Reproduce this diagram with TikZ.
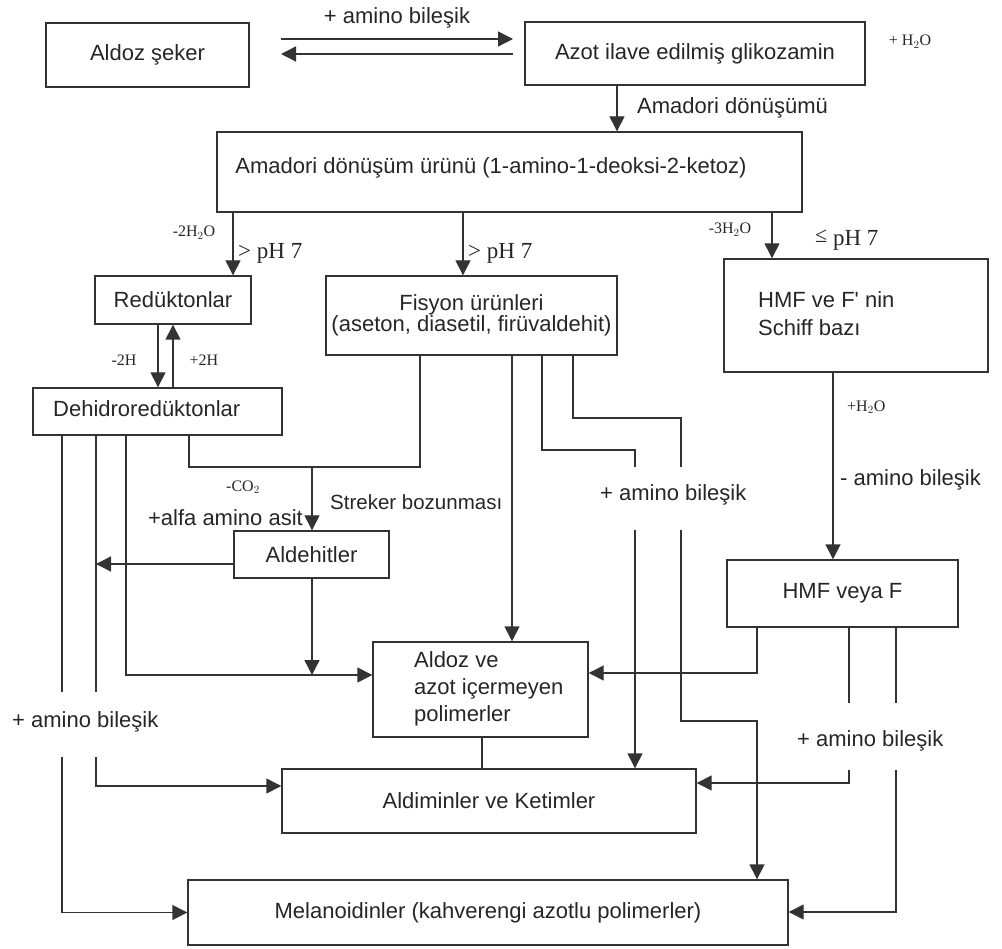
\documentclass[tikz,border=0pt]{standalone}
\usepackage{fontspec}
\setmainfont{Liberation Sans}
\newfontfamily\tmfont{Liberation Serif}
\usetikzlibrary{arrows.meta}
\begin{document}
\begin{tikzpicture}[x=1pt,y=-1pt,
  box/.style={draw=black!80, line width=1.4pt, rectangle, inner sep=0pt, font=\fontsize{22}{25}\selectfont, text=black!85},
  ln/.style={draw=black!80, line width=1.4pt},
  arr/.style={ln, -{Triangle[length=15pt,width=15pt]}},
  lbl/.style={font=\fontsize{22}{25}\selectfont, text=black!85, inner sep=0pt},
  chem/.style={font=\tmfont\fontsize{16}{18}\selectfont, text=black!85, inner sep=0pt},
  ph/.style={font=\tmfont\fontsize{23}{26}\selectfont, text=black!85, inner sep=0pt},
]
\useasboundingbox (0,0) rectangle (1002,949);

% boxes
\node[box, minimum width=203pt, minimum height=64pt] (aldoz) at (147.5,55) {Aldoz şeker};
\node[box, minimum width=340pt, minimum height=63pt] (azot) at (695,53.5) {Azot ilave edilmiş glikozamin};
\node[box, minimum width=585pt, minimum height=80pt] (amadori) at (509.5,172) {};
\node[lbl] (amadoriT) at (491,168) {Amadori dönüşüm ürünü (1-amino-1-deoksi-2-ketoz)};
\node[box, minimum width=156pt, minimum height=48pt] (reduk) at (173,300) {Redüktonlar};
\node[box, minimum width=291pt, minimum height=79pt, align=center, font=\fontsize{22}{18}\selectfont] (fisyon) at (471.5,315.5) {Fisyon ürünleri\\(aseton, diasetil, firüvaldehit)};
\node[box, minimum width=264pt, minimum height=113pt] (schiff) at (856,315.5) {};
\node[lbl, anchor=west, align=left, font=\fontsize{22}{28}\selectfont] (schiffT) at (758,314) {HMF ve F\textquotesingle\ nin\\Schiff bazı};
\node[box, minimum width=249pt, minimum height=47pt] (dehidro) at (157.5,411.5) {};
\node[lbl, anchor=west] (dehidroT) at (53,409) {Dehidroredüktonlar};
\node[box, minimum width=155pt, minimum height=47pt] (aldehit) at (311.5,554.5) {Aldehitler};
\node[box, minimum width=231pt, minimum height=67pt] (hmf) at (842.5,593.5) {HMF veya F};
\node[box, minimum width=215pt, minimum height=95pt] (aldozve) at (480.5,689.5) {};
\node[lbl, anchor=west, align=left, font=\fontsize{22}{27}\selectfont] (aldozveT) at (414,689) {Aldoz ve\\azot içermeyen\\polimerler};
\node[box, minimum width=414pt, minimum height=64pt] (aldimin) at (489,801) {Aldiminler ve Ketimler};
\node[box, minimum width=600pt, minimum height=65pt] (melan) at (488,912.5) {Melanoidinler (kahverengi azotlu polimerler)};

% top double arrows
\coordinate (u1) at (281,39);
\coordinate (u2) at (513,39);
\coordinate (l1) at (513,54);
\coordinate (l2) at (281,54);
\draw[arr] (u1) -- (u2);
\draw[arr] (l1) -- (l2);
\node[lbl] (tAmino) at (397,18) {+ amino bileşik};
\node[chem] (tH2O) at (910,42) {+ H$_2$O};

% azot -> amadori
\draw[arr] (azot.south -| 617,0) -- (amadori.north -| 617,0);
\node[lbl, anchor=west] (tAmd) at (637,108) {Amadori dönüşümü};

% amadori -> three
\draw[arr] (amadori.south -| 233,0) -- (reduk.north -| 233,0);
\draw[arr] (amadori.south -| 463,0) -- (fisyon.north -| 463,0);
\draw[arr] (amadori.south -| 772,0) -- (schiff.north -| 772,0);
\node[chem] (t2h2o) at (194,233) {-2H$_2$O};
\node[ph, anchor=west] (tph1) at (238,253) {> pH 7};
\node[ph, anchor=west] (tph2) at (468,253) {> pH 7};
\node[chem] (t3h2o) at (730,230) {-3H$_2$O};
\node[ph, anchor=west] (tph3) at (815,240) {\raisebox{0.3ex}{\fontsize{22}{22}\selectfont ≤}~pH 7};

% reduk <-> dehidro
\draw[arr] (reduk.south -| 158,0) -- (dehidro.north -| 158,0);
\draw[arr] (dehidro.north -| 173,0) -- (reduk.south -| 173,0);
\node[chem] (tm2h) at (124,360) {-2H};
\node[chem] (tp2h) at (204,360) {+2H};

% schiff -> hmf
\draw[arr] (schiff.south -| 833,0) -- (hmf.north -| 833,0);
\node[chem, anchor=west] (th2o2) at (847,407) {+H$_2$O};
\node[lbl, anchor=west] (tmam) at (840,480) {- amino bileşik};

% fisyon / dehidro -> streker
\coordinate (stk) at (312,467);
\draw[ln] (fisyon.south -| 420,0) -- (420,467) -- (189,467) -- (dehidro.south -| 189,0);
\draw[arr] (stk) -- (aldehit.north -| 312,0);
\node[chem] (tco2) at (243,487) {-CO$_2$};
\node[lbl, anchor=west, font=\fontsize{20.5}{24}\selectfont] (tstk) at (330,502) {Streker bozunması};
\node[lbl, anchor=east] (talfa) at (303,518) {+alfa amino asit};

% aldehit outputs
\coordinate (ald1) at (96,564);
\coordinate (ald2) at (312,675);
\draw[arr] (aldehit.west |- ald1) -- (ald1);
\draw[arr] (aldehit.south -| ald2) -- (ald2);

% dehidro vertical lines
\coordinate (g1a) at (62,692);
\coordinate (g1b) at (62,757);
\coordinate (g2a) at (96,692);
\coordinate (g2b) at (96,757);
\draw[ln] (dehidro.south -| g1a) -- (g1a);
\draw[arr] (g1b) |- (melan.west);
\draw[ln] (dehidro.south -| g2a) -- (g2a);
\draw[arr] (g2b) -- (96,786) -- (aldimin.west |- 0,786);
\draw[arr] (dehidro.south -| 126,0) -- (126,675) -- (aldozve.west |- 0,675);
\node[lbl, anchor=west] (tamL) at (12,722) {+ amino bileşik};

% fisyon outputs
\draw[arr] (fisyon.south -| 512,0) -- (aldozve.north -| 512,0);
\coordinate (f1a) at (635,467);
\coordinate (f1b) at (635,530);
\draw[ln] (fisyon.south -| 542,0) -- (542,450) -- (635,450) -- (f1a);
\draw[arr] (f1b) -- (aldimin.north -| f1b);
\coordinate (f2a) at (681,467);
\coordinate (f2b) at (681,530);
\draw[ln] (fisyon.south -| 573,0) -- (573,418) -- (681,418) -- (f2a);
\draw[arr] (f2b) -- (681,721) -- (757,721) -- (melan.north -| 757,0);
\node[lbl, anchor=west] (tamM) at (600,495) {+ amino bileşik};

% aldozve -> aldimin
\draw[ln] (aldozve.south -| 482,0) -- (aldimin.north -| 482,0);

% hmf outputs
\draw[arr] (hmf.south -| 757,0) -- (757,673) -- (aldozve.east |- 0,673);
\coordinate (h1a) at (849,703);
\coordinate (h1b) at (849,770);
\coordinate (h2a) at (896,703);
\coordinate (h2b) at (896,770);
\draw[ln] (hmf.south -| h1a) -- (h1a);
\draw[arr] (h1b) -- (849,783) -- (aldimin.east |- 0,783);
\draw[ln] (hmf.south -| h2a) -- (h2a);
\draw[arr] (h2b) -- (896,912) -- (melan.east |- 0,912);
\node[lbl, anchor=west] (tamR) at (797,741) {+ amino bileşik};
\end{tikzpicture}
\end{document}
